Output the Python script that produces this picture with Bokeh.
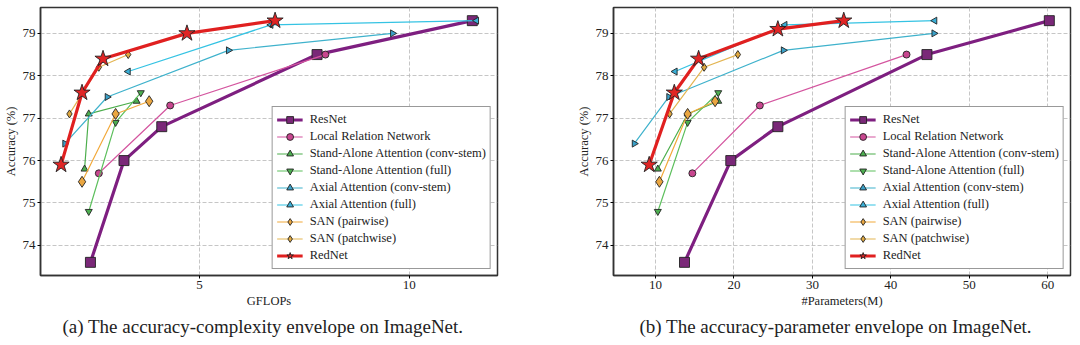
import math
from bokeh.plotting import figure
from bokeh.models import Legend, LegendItem, Title, Range1d, FixedTicker
from bokeh.layouts import row
from bokeh.embed import file_html
from bokeh.resources import INLINE

# ---------------- data ----------------
series_names = ["ResNet", "Local Relation Network", "Stand-Alone Attention (conv-stem)",
                "Stand-Alone Attention (full)", "Axial Attention (conv-stem)",
                "Axial Attention (full)", "SAN (pairwise)", "SAN (patchwise)", "RedNet"]

resnet_gflops = [2.4, 3.2, 4.1, 7.8, 11.5]
resnet_params = [13.7, 19.6, 25.6, 44.6, 60.2]
resnet_acc = [73.6, 76.0, 76.8, 78.5, 79.3]

lrnet_gflops = [2.6, 4.3, 8.0]
lrnet_params = [14.7, 23.3, 42.0]
lrnet_acc = [75.7, 77.3, 78.5]

sa_conv_gflops = [2.26, 2.36, 3.5]
sa_conv_params = [10.3, 14.1, 18.0]
sa_conv_acc = [75.8, 77.1, 77.4]

sa_full_gflops = [2.36, 3.0, 3.6]
sa_full_params = [10.3, 14.1, 18.0]
sa_full_acc = [74.8, 76.9, 77.6]

axial_conv_gflops = [1.79, 2.8, 5.69, 9.6]
axial_conv_params = [7.3, 11.7, 26.3, 45.5]
axial_conv_acc = [76.4, 77.5, 78.6, 79.0]

axial_full_gflops = [3.3, 6.7, 11.6]
axial_full_params = [12.5, 26.5, 45.6]
axial_full_acc = [78.1, 79.2, 79.3]

san_pair_gflops = [2.2, 3.0, 3.8]
san_pair_params = [10.5, 14.1, 17.6]
san_pair_acc = [75.5, 77.1, 77.4]

san_patch_gflops = [1.9, 2.6, 3.3]
san_patch_params = [11.8, 16.2, 20.5]
san_patch_acc = [77.1, 78.2, 78.5]

rednet_gflops = [1.7, 2.2, 2.7, 4.7, 6.8]
rednet_params = [9.2, 12.4, 15.5, 25.6, 34.0]
rednet_acc_a = [75.9, 77.6, 78.4, 79.0, 79.3]
rednet_acc_b = [75.9, 77.6, 78.4, 79.1, 79.3]

y_ticks = [74, 75, 76, 77, 78, 79]
x_ticks_a = [5, 10]
x_ticks_b = [10, 20, 30, 40, 50, 60]

FONT = "Liberation Serif"

# styles: (line color, line width, marker, size, fill, angle)
styles = {
    "ResNet": ("#7e1f80", 3.2, "square", 10, "#7a2878", 0),
    "Local Relation Network": ("#d4559f", 1.2, "circle", 7, "#c8468f", 0),
    "Stand-Alone Attention (conv-stem)": ("#4cae4c", 1.2, "triangle", 7, "#4caf50", 0),
    "Stand-Alone Attention (full)": ("#5cbf5c", 1.2, "inverted_triangle", 7, "#4caf50", 0),
    "Axial Attention (conv-stem)": ("#3fb2cc", 1.2, "triangle", 7, "#3aa0c8", -math.pi / 2),
    "Axial Attention (full)": ("#35c3e3", 1.2, "triangle", 7, "#3ab0d8", math.pi / 2),
    "SAN (pairwise)": ("#f2a93b", 1.2, "diamond", 11, "#eaa640", 0),
    "SAN (patchwise)": ("#e3b552", 1.2, "diamond", 8, "#e0a840", 0),
    "RedNet": ("#e02020", 3.2, "star", 17, "#e02525", 0),
}


def make_fig(xs_list, ys_list, xr, xticks, xlabel, caption, cap_offset, bl, br):
    p = figure(width=540, height=345, output_backend="svg", toolbar_location=None,
               x_range=Range1d(*xr), y_range=Range1d(73.29, 79.61),
               min_border_left=bl, min_border_right=br, min_border_top=7,
               min_border_bottom=70)
    p.outline_line_color = "#333333"
    p.outline_line_width = 1.5
    for ax in (p.xaxis[0], p.yaxis[0]):
        ax.axis_line_color = "#333333"
        ax.axis_line_width = 1.5
        ax.major_tick_in = 0
        ax.major_tick_out = 3
        ax.minor_tick_out = 0
        ax.minor_tick_in = 0
        ax.major_label_text_font = FONT
        ax.major_label_text_font_size = "13px"
        ax.major_label_text_color = "#222222"
        ax.axis_label_text_font = FONT
        ax.axis_label_text_font_size = "12.5px"
        ax.axis_label_text_font_style = "normal"
        ax.axis_label_text_color = "#222222"
        ax.major_label_standoff = 2
        ax.axis_label_standoff = 2
    p.xaxis[0].ticker = FixedTicker(ticks=xticks)
    p.yaxis[0].ticker = FixedTicker(ticks=y_ticks)
    p.xaxis[0].axis_label = xlabel
    p.yaxis[0].axis_label = "Accuracy (%)"
    for g in (p.xgrid[0], p.ygrid[0]):
        g.grid_line_color = "#b8b8b8"
        g.grid_line_dash = "4 2"
        g.grid_line_width = 0.8

    items = []
    for name, xs, ys in zip(series_names, xs_list, ys_list):
        lc, lw, mk, sz, fc, ang = styles[name]
        r1 = p.line(xs, ys, line_color=lc, line_width=lw)
        r2 = p.scatter(xs, ys, marker=mk, size=sz, fill_color=fc, line_color="#222222",
                       line_width=0.9, angle=ang)
        items.append(LegendItem(label=name, renderers=[r1, r2]))
    leg = Legend(items=items, location="bottom_right", margin=6,
                 label_text_font=FONT, label_text_font_size="12.5px",
                 label_text_color="#222222",
                 glyph_width=26, glyph_height=17, label_height=17, spacing=0,
                 padding=4, label_standoff=7,
                 border_line_color="#333333", border_line_width=1.2,
                 background_fill_alpha=1.0)
    p.add_layout(leg, "center")
    cap = Title(text=caption, align="left", offset=cap_offset, text_font=FONT,
                text_font_size="19px", text_font_style="normal", text_color="#222222",
                standoff=6)
    p.add_layout(cap, "below")
    return p


pa = make_fig([resnet_gflops, lrnet_gflops, sa_conv_gflops, sa_full_gflops, axial_conv_gflops,
               axial_full_gflops, san_pair_gflops, san_patch_gflops, rednet_gflops],
              [resnet_acc, lrnet_acc, sa_conv_acc, sa_full_acc, axial_conv_acc,
               axial_full_acc, san_pair_acc, san_patch_acc, rednet_acc_a],
              (1.21, 12.1), x_ticks_a, "GFLOPs",
              "(a) The accuracy-complexity envelope on ImageNet.", 22, 40, 43)

pb = make_fig([resnet_params, lrnet_params, sa_conv_params, sa_full_params, axial_conv_params,
               axial_full_params, san_pair_params, san_patch_params, rednet_params],
              [resnet_acc, lrnet_acc, sa_conv_acc, sa_full_acc, axial_conv_acc,
               axial_full_acc, san_pair_acc, san_patch_acc, rednet_acc_b],
              (4.65, 62.9), x_ticks_b, "#Parameters(M)",
              "(b) The accuracy-parameter envelope on ImageNet.", 26, 73, 10)

layout = row(pa, pb, spacing=0)
open("out.html", "w").write(file_html(layout, INLINE))
